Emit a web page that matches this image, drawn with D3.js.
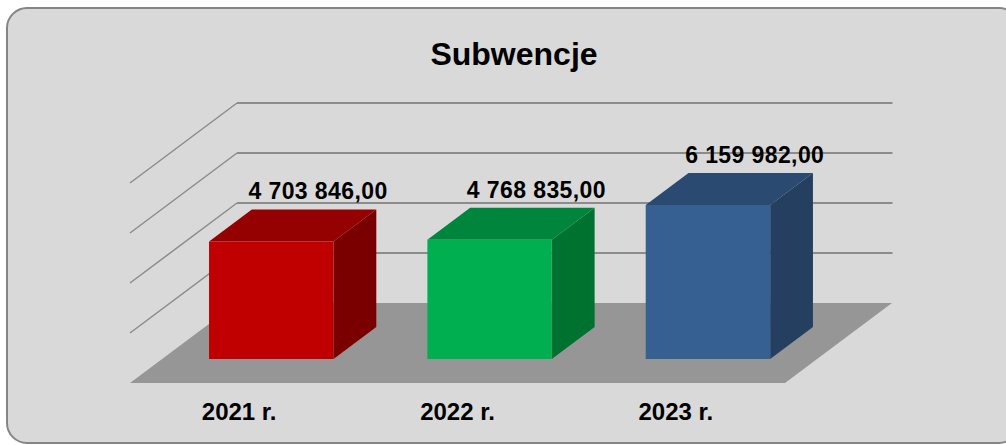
<!DOCTYPE html>
<html lang="pl">
<head>
  <meta charset="UTF-8">
  <script src="https://cdnjs.cloudflare.com/ajax/libs/d3/7.8.5/d3.min.js"></script>
  <style>
    body { margin: 0; background: #fff; }
    text { font-family: "Liberation Sans", Arial, sans-serif; font-weight: bold; fill: #000; }
  </style>
  <title>Subwencje</title>
</head>
<body>
  <script>
    const years = ["2021 r.", "2022 r.", "2023 r."];
    const values = [4703846.00, 4768835.00, 6159982.00];
    const gridTicks = [2000000, 4000000, 6000000, 8000000];
    const title = "Subwencje";

    const w = 1006, h = 445;
    // oblique depth of the floor (back - front)
    const depthX = 107, depthY = -80;
    const barFront = 0.3, barBack = 0.7;

    const colors = [
      { front: "#c00000", top: "#950000", side: "#7a0000" },
      { front: "#00b050", top: "#00853c", side: "#00722f" },
      { front: "#376092", top: "#2a4a71", side: "#243f60" }
    ];

    const svg = d3.select("body").append("svg")
      .attr("width", w)
      .attr("height", h);

    svg.append("rect")
      .attr("x", 7).attr("y", 8)
      .attr("width", 1012).attr("height", 435)
      .attr("rx", 20)
      .attr("fill", "#d9d9d9")
      .attr("stroke", "#858585")
      .attr("stroke-width", 2);

    svg.append("text")
      .attr("x", 514).attr("y", 65)
      .attr("text-anchor", "middle")
      .style("font-size", "32px")
      .text(title);

    const x = d3.scaleBand()
      .domain(years)
      .range([130, 785])
      .paddingInner(0.43)
      .paddingOuter(0.215);

    // value scale on the front plane of the floor
    const y = d3.scaleLinear()
      .domain([0, 8000000])
      .range([383, 183]);

    const pt = (px, py, d) => [px + depthX * d, py + depthY * d];
    const poly = pts => pts.map(p => p.join(",")).join(" ");

    // side wall diagonals and back wall gridlines
    const grid = svg.append("g");
    gridTicks.forEach(v => {
      const a = pt(x.range()[0], y(v), 0);
      const b = pt(x.range()[0], y(v), 1);
      const c = pt(x.range()[1], y(v), 1);
      grid.append("line")
        .attr("x1", a[0]).attr("y1", a[1])
        .attr("x2", b[0]).attr("y2", b[1])
        .attr("stroke", "#8c8c8c").attr("stroke-width", 1.5);
      grid.append("line")
        .attr("x1", b[0]).attr("y1", b[1])
        .attr("x2", c[0] + 0.5).attr("y2", c[1])
        .attr("stroke", "#8c8c8c").attr("stroke-width", 2);
    });

    // floor
    const [fx0, fx1] = x.range();
    svg.append("polygon")
      .attr("points", poly([pt(fx0, y(0), 0), pt(fx1, y(0), 0), pt(fx1, y(0), 1), pt(fx0, y(0), 1)]))
      .attr("fill", "#969696");

    // bars
    const bars = svg.append("g");
    years.forEach((yr, i) => {
      const x0 = x(yr), x1 = x(yr) + x.bandwidth();
      const yb = y(0), yt = y(values[i]);
      const c = colors[i];
      bars.append("polygon")
        .attr("points", poly([pt(x1, yb, barFront), pt(x1, yb, barBack), pt(x1, yt, barBack), pt(x1, yt, barFront)]))
        .attr("fill", c.side);
      bars.append("polygon")
        .attr("points", poly([pt(x0, yt, barFront), pt(x1, yt, barFront), pt(x1, yt, barBack), pt(x0, yt, barBack)]))
        .attr("fill", c.top);
      bars.append("polygon")
        .attr("points", poly([pt(x0, yb, barFront), pt(x1, yb, barFront), pt(x1, yt, barFront), pt(x0, yt, barFront)]))
        .attr("fill", c.front);
    });

    const pl = d3.formatLocale({ decimal: ",", thousands: " ", grouping: [3], currency: ["", " zł"] });
    const fmt = pl.format(",.2f");

    // value labels above the back edge of each bar top
    svg.append("g").selectAll("text")
      .data(values)
      .join("text")
      .attr("x", (d, i) => pt(x(years[i]) + x.bandwidth() / 2, y(d), barBack)[0] + 4)
      .attr("y", (d, i) => pt(0, y(d), barBack)[1] - 10)
      .attr("text-anchor", "middle")
      .style("font-size", "23px")
      .style("letter-spacing", "0.4px")
      .text(d => fmt(d));

    // category labels under the floor
    svg.append("g").selectAll("text")
      .data(years)
      .join("text")
      .attr("x", d => x(d) + x.bandwidth() / 2)
      .attr("y", 420)
      .attr("text-anchor", "middle")
      .style("font-size", "24px")
      .text(d => d);
  </script>
</body>
</html>
